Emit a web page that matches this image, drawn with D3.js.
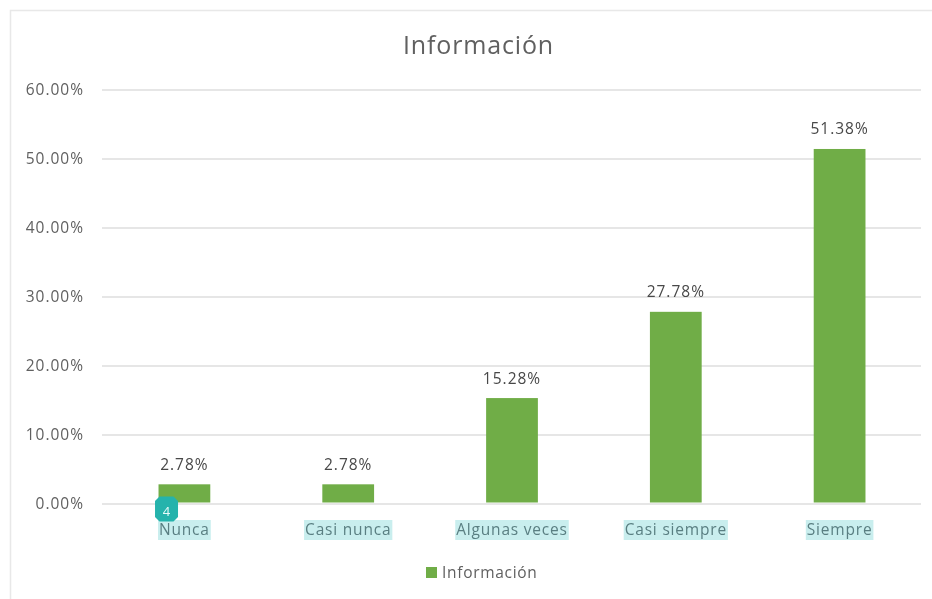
<!DOCTYPE html>
<html><head><meta charset="utf-8">
<script src="https://cdn.jsdelivr.net/npm/d3@7"></script>
<style>html,body{margin:0;padding:0;background:#fff}svg{display:block;filter:blur(0.35px)}text{font-family:"Open Sans","DejaVu Sans",sans-serif}</style>
</head><body>
<svg id="c" width="932" height="599"></svg>
<script>
const categories = ["Nunca","Casi nunca","Algunas veces","Casi siempre","Siempre"];
const values = [2.78,2.78,15.28,27.78,51.38];
const tickValues = [0,10,20,30,40,50,60];
const title = "Información";
const seriesName = "Información";

const svg = d3.select("#c");
const x = d3.scaleBand().domain(categories).range([102.5,921.5]).paddingInner(0.684).paddingOuter(0.342);
const y = d3.scaleLinear().domain([0,60]).range([503.5,89.5]);
const fmt = v => v.toFixed(2)+"%";

// chart frame
svg.append("path").attr("d","M10.5 599V10.5H932").attr("fill","none").attr("stroke","#e8e8e8").attr("stroke-width",1.5);

svg.append("text").attr("x",478.5).attr("y",54).attr("text-anchor","middle")
  .attr("font-size",25).attr("letter-spacing",0.85).attr("fill","#606060").text(title);

// gridlines and y axis through d3.axisLeft
const gy = svg.append("g").attr("transform","translate(102,0)")
  .call(d3.axisLeft(y).tickValues(tickValues).tickFormat(d=>d.toFixed(2)+"%").tickSize(-819).tickPadding(18));
gy.select(".domain").remove();
gy.selectAll("line").attr("stroke","#dedede").attr("stroke-width",1.7);
gy.selectAll("text").attr("font-size",15.5).attr("letter-spacing",1).attr("fill","#606060");

svg.selectAll("rect.bar").data(values).join("rect").attr("class","bar")
  .attr("x",(d,i)=>x(categories[i])).attr("width",x.bandwidth())
  .attr("y",d=>y(d)).attr("height",d=>y(0)-y(d)-1).attr("fill","#70ad47");

svg.selectAll("text.val").data(values).join("text").attr("class","val")
  .attr("x",(d,i)=>x(categories[i])+x.bandwidth()/2).attr("y",d=>y(d)-14.5)
  .attr("text-anchor","middle").attr("font-size",15.5).attr("letter-spacing",1).attr("fill","#484848").text(fmt);

// category labels with highlight
const lab = svg.selectAll("g.cat").data(categories).join("g").attr("class","cat")
  .attr("transform",d=>`translate(${x(d)+x.bandwidth()/2},0)`);
const labT = lab.append("text").attr("y",535).attr("text-anchor","middle")
  .attr("font-size",15.5).attr("letter-spacing",0.8).attr("fill","#5a7f82").text(d=>d);
lab.each(function(){
  const g=d3.select(this), w=g.select("text").node().getComputedTextLength();
  g.insert("rect","text").attr("x",-w/2-1).attr("width",w+2).attr("y",520).attr("height",20).attr("fill","#c9eeee");
});

// annotation badge
const bx = x(categories[0])+8;
svg.append("path").attr("transform",`translate(${bx},509)`)
  .attr("d","M-7 -12.5H7L11.5 -8V8L7 12.5H-7L-11.5 8V-8Z").attr("fill","#25b3ac");
svg.append("text").attr("x",bx).attr("y",515.5).attr("text-anchor","middle")
  .attr("font-size",13).attr("fill","#e8fbfa").text("4");

// legend
svg.append("rect").attr("x",426).attr("y",567).attr("width",11).attr("height",11).attr("fill","#70ad47");
svg.append("text").attr("x",442).attr("y",578).attr("font-size",15.5).attr("letter-spacing",0.7).attr("fill","#606060").text(seriesName);
</script>
</body></html>
